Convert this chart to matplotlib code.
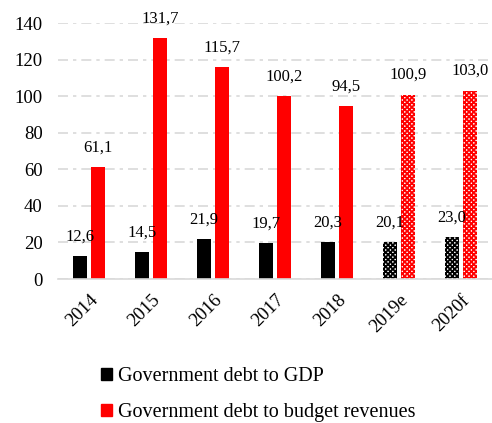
import matplotlib
matplotlib.use('Agg')
import matplotlib.pyplot as plt
import numpy as np
from matplotlib.patches import Patch

years = ['2014', '2015', '2016', '2017', '2018', '2019e', '2020f']
debt_gdp = [12.6, 14.5, 21.9, 19.7, 20.3, 20.1, 23.0]
debt_rev = [61.1, 131.7, 115.7, 100.2, 94.5, 100.9, 103.0]
forecast = [False, False, False, False, False, True, True]

plt.rcParams['font.family'] = ['Liberation Serif', 'DejaVu Serif']
plt.rcParams['hatch.linewidth'] = 1.3

fig = plt.figure(figsize=(4.92, 4.23), dpi=100)
ax = fig.add_axes([0.118, 0.3404, 0.882, 0.6052])

x = np.arange(len(years))
w = 0.23
off = 0.145
for i in range(len(years)):
    if forecast[i]:
        ax.bar(x[i] - off, debt_gdp[i], w, facecolor='white', hatch='xxxxxxx', edgecolor='black', linewidth=0)
        ax.bar(x[i] + off, debt_rev[i], w, facecolor='white', hatch='xxxxxxx', edgecolor='red', linewidth=0)
    else:
        ax.bar(x[i] - off, debt_gdp[i], w, color='black')
        ax.bar(x[i] + off, debt_rev[i], w, color='red')
    ax.text(x[i] - off, debt_gdp[i] + 8.5, f'{debt_gdp[i]:.1f}'.replace('.', ','), ha='center', va='baseline', fontsize=12)
    ax.text(x[i] + off, debt_rev[i] + 8.5, f'{debt_rev[i]:.1f}'.replace('.', ','), ha='center', va='baseline', fontsize=12)

ax.set_xlim(-0.5, 6.5)
ax.set_ylim(0, 140)
ax.set_yticks(range(0, 141, 20))
ax.set_xticks(x)
ax.set_xticklabels(years, rotation=45, ha='right', rotation_mode='anchor')
ax.tick_params(axis='both', length=0, labelsize=13.5)
ax.tick_params(axis='y', pad=11)
ax.tick_params(axis='x', pad=9)
ax.grid(axis='y', color='#d9d9d9', linestyle=(0, (6, 3, 2, 3)), linewidth=1.2)
ax.set_axisbelow(True)
for s in ['top', 'right', 'left']:
    ax.spines[s].set_visible(False)
ax.spines['bottom'].set_color('#d9d9d9')
ax.spines['bottom'].set_linewidth(1.2)

handles = [Patch(color='black', label='Government debt to GDP'),
           Patch(color='red', label='Government debt to budget revenues')]
fig.legend(handles=handles, loc='upper left', bbox_to_anchor=(0.205, 0.132), frameon=False,
           fontsize=14.5, handlelength=0.55, handleheight=0.55, handletextpad=0.3, labelspacing=0.85,
           borderaxespad=0, borderpad=0)

fig.savefig('out.png', dpi=100)
